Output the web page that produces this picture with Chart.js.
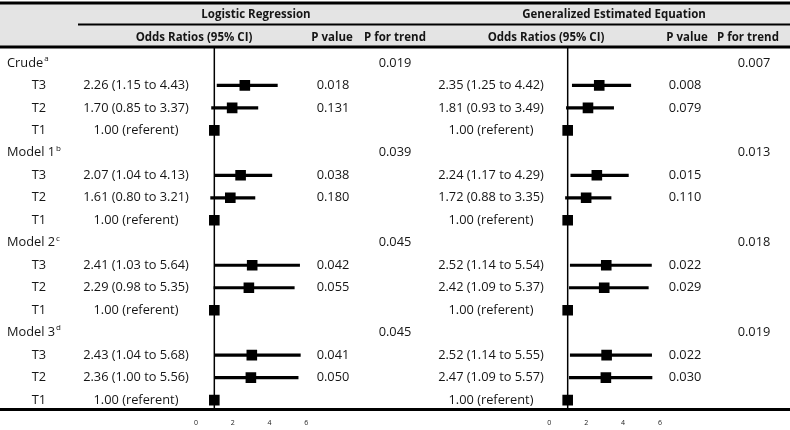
<!DOCTYPE html>
<html>
<head>
<meta charset="utf-8">
<script src="https://cdn.jsdelivr.net/npm/chart.js@4.4.0/dist/chart.umd.min.js"></script>
<style>
  body { margin: 0; background: #fff; }
  .wrap { position: relative; width: 790px; height: 430px; }
  .wrap canvas { position: absolute; left: 0; top: 0; }
</style>
</head>
<body>
<div class="wrap">
  <canvas id="lrChart" width="790" height="430"></canvas>
  <canvas id="geeChart" width="790" height="430"></canvas>
</div>
<script>
// ---- data ----
const groups = ['Crude', 'Model 1', 'Model 2', 'Model 3'];
const groupNotes = ['a', 'b', 'c', 'd'];
const tertiles = ['T3', 'T2', 'T1'];
const tickValues = [0, 2, 4, 6];

// logistic regression
const lrOR   = [[2.26, 1.70, 1.00], [2.07, 1.61, 1.00], [2.41, 2.29, 1.00], [2.43, 2.36, 1.00]];
const lrLow  = [[1.15, 0.85], [1.04, 0.80], [1.03, 0.98], [1.04, 1.00]];
const lrHigh = [[4.43, 3.37], [4.13, 3.21], [5.64, 5.35], [5.68, 5.56]];
const lrP    = [['0.018', '0.131'], ['0.038', '0.180'], ['0.042', '0.055'], ['0.041', '0.050']];
const lrTrend = ['0.019', '0.039', '0.045', '0.045'];
// where the boxes actually sit on the axis in the figure
const lrBox  = [[2.66, 1.97, 1.00], [2.43, 1.87, 1.00], [3.06, 2.88, 1.00], [3.04, 2.99, 1.00]];

// generalized estimated equation
const geeOR   = [[2.35, 1.81, 1.00], [2.24, 1.72, 1.00], [2.52, 2.42, 1.00], [2.52, 2.47, 1.00]];
const geeLow  = [[1.25, 0.93], [1.17, 0.88], [1.14, 1.09], [1.14, 1.09]];
const geeHigh = [[4.42, 3.49], [4.29, 3.35], [5.54, 5.37], [5.55, 5.57]];
const geeP    = [['0.008', '0.079'], ['0.015', '0.110'], ['0.022', '0.029'], ['0.022', '0.030']];
const geeTrend = ['0.007', '0.013', '0.018', '0.019'];
const geeBox  = [[2.71, 2.10, 1.00], [2.58, 2.00, 1.00], [3.09, 2.98, 1.00], [3.11, 3.07, 1.00]];

// ---- helpers ----
const FONT = '"Open Sans", "DejaVu Sans", sans-serif';
const INK = '#151515';
const rowOf = (g, t) => g * 4 + 1 + t;   // group header row = g*4

function orText(or, lo, hi) {
  if (lo === undefined) return or.toFixed(2) + ' (referent)';
  return or.toFixed(2) + ' (' + lo.toFixed(2) + ' to ' + hi.toFixed(2) + ')';
}

function ciBars(low, high) {
  const out = [];
  low.forEach((pair, g) => pair.forEach((lo, t) => {
    out.push({ y: rowOf(g, t), x: [lo, high[g][t]] });
  }));
  return out;
}

function boxes(pos) {
  const out = [];
  pos.forEach((row, g) => row.forEach((x, t) => out.push({ x: x, y: rowOf(g, t) })));
  return out;
}

function hline(ctx, x0, x1, y, w) {
  ctx.beginPath();
  ctx.lineWidth = w;
  ctx.strokeStyle = '#000';
  ctx.moveTo(x0, y);
  ctx.lineTo(x1, y);
  ctx.stroke();
}

function text(ctx, s, x, y, align, bold) {
  ctx.font = bold ? 'bold 11.5px ' + FONT : '12.8px ' + FONT;
  ctx.textAlign = align;
  ctx.textBaseline = 'middle';
  ctx.fillStyle = INK;
  ctx.fillText(s, x, y);
}

const tablePlugin = {
  id: 'table',
  beforeDatasetsDraw(chart) {
    const ctx = chart.ctx, y = chart.scales.y;
    const top = y.getPixelForValue(-2.67), hdr = y.getPixelForValue(-0.71);
    ctx.save();
    ctx.fillStyle = '#e4e4e4';
    ctx.fillRect(0, top, 790, hdr - top);
    hline(ctx, 0, 790, top, 3);
    hline(ctx, 78, 790, y.getPixelForValue(-1.71), 2);
    hline(ctx, 0, 790, hdr, 3);
    ctx.restore();
  },
  afterDatasetsDraw(chart) {
    const ctx = chart.ctx, y = chart.scales.y;
    ctx.save();
    const h1 = y.getPixelForValue(-2.13), h2 = y.getPixelForValue(-1.1);
    text(ctx, 'Logistic Regression', 256, h1, 'center', true);
    text(ctx, 'Generalized Estimated Equation', 614, h1, 'center', true);
    text(ctx, 'Odds Ratios (95% CI)', 194, h2, 'center', true);
    text(ctx, 'P value', 332, h2, 'center', true);
    text(ctx, 'P for trend', 395, h2, 'center', true);
    text(ctx, 'Odds Ratios (95% CI)', 546, h2, 'center', true);
    text(ctx, 'P value', 687, h2, 'center', true);
    text(ctx, 'P for trend', 748, h2, 'center', true);

    groups.forEach((name, g) => {
      const gy = y.getPixelForValue(g * 4);
      text(ctx, name, 7, gy, 'left', false);
      const w = ctx.measureText(name).width;
      ctx.font = '8px ' + FONT;
      ctx.textAlign = 'left';
      ctx.fillText(groupNotes[g], 7 + w + 1, gy - 4.5);
      text(ctx, lrTrend[g], 395, gy, 'center', false);
      text(ctx, geeTrend[g], 754, gy, 'center', false);
      tertiles.forEach((t, i) => {
        const ty = y.getPixelForValue(rowOf(g, i));
        text(ctx, t, 39, ty, 'center', false);
        text(ctx, orText(lrOR[g][i], lrLow[g][i], lrHigh[g][i]), 136, ty, 'center', false);
        text(ctx, orText(geeOR[g][i], geeLow[g][i], geeHigh[g][i]), 491, ty, 'center', false);
        if (lrP[g][i]) text(ctx, lrP[g][i], 333, ty, 'center', false);
        if (geeP[g][i]) text(ctx, geeP[g][i], 685, ty, 'center', false);
      });
    });
    hline(ctx, 0, 790, y.getPixelForValue(15.42), 3);
    ctx.restore();
  }
};

function forestConfig(low, high, box, xMin, xMax, plugins) {
  return {
    type: 'scatter',
    data: {
      datasets: [
        {
          type: 'scatter',
          data: boxes(box),
          pointStyle: 'rect',
          pointRadius: 7.5,
          backgroundColor: '#000',
          borderColor: '#000',
          borderWidth: 0,
          order: 0
        },
        {
          type: 'bar',
          indexAxis: 'y',
          data: ciBars(low, high),
          backgroundColor: '#000',
          barThickness: 2.5,
          order: 1
        },
        {
          type: 'line',
          data: [{ x: 1, y: -0.67 }, { x: 1, y: 15.42 }],
          borderColor: '#000',
          borderWidth: 1.5,
          pointRadius: 0,
          order: 2
        }
      ]
    },
    options: {
      responsive: false,
      animation: false,
      layout: { autoPadding: false, padding: 0 },
      plugins: { legend: { display: false }, tooltip: { enabled: false } },
      scales: {
        x: {
          type: 'linear',
          min: xMin,
          max: xMax,
          offset: false,
          grid: { display: false, drawTicks: false, tickLength: 0 },
          border: { display: false },
          afterBuildTicks: s => { s.ticks = tickValues.map(v => ({ value: v })); },
          ticks: { padding: 3, color: '#222', font: { size: 7, family: FONT }, maxRotation: 0 }
        },
        y: {
          type: 'linear',
          reverse: true,
          offset: false,
          min: -2.8,
          max: 15.69,
          display: false
        }
      }
    },
    plugins: plugins
  };
}

new Chart(document.getElementById('lrChart'), forestConfig(lrLow, lrHigh, lrBox, -10.66, 32.32, [tablePlugin]));
new Chart(document.getElementById('geeChart'), forestConfig(geeLow, geeHigh, geeBox, -29.77, 13.05, []));
</script>
</body>
</html>
